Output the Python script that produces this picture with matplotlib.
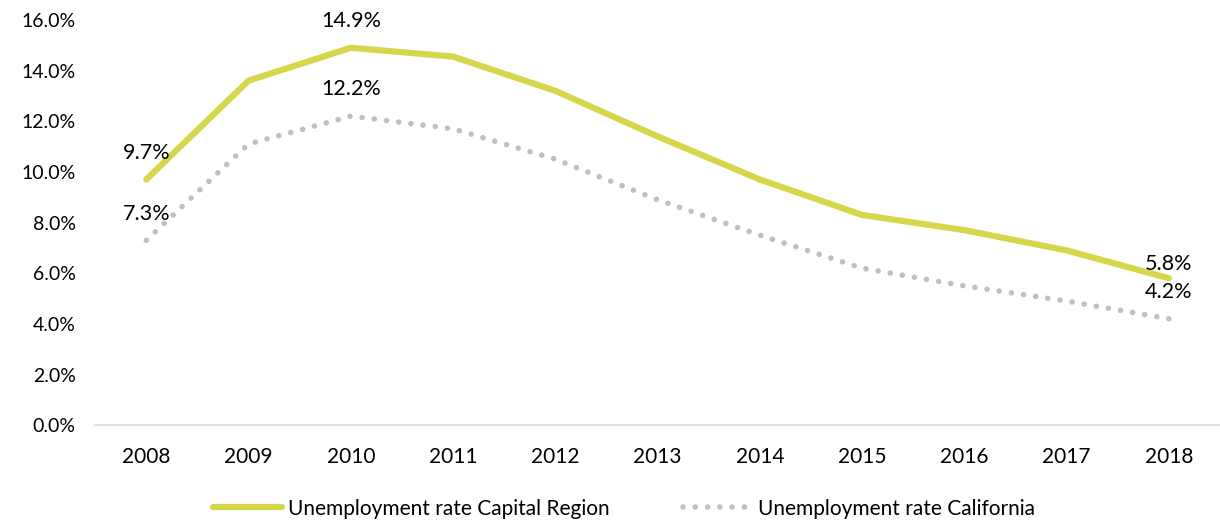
import matplotlib.pyplot as plt
from matplotlib.ticker import FuncFormatter

years = [2008, 2009, 2010, 2011, 2012, 2013, 2014, 2015, 2016, 2017, 2018]
capital = [9.7, 13.6, 14.9, 14.55, 13.2, 11.4, 9.7, 8.3, 7.7, 6.9, 5.8]
california = [7.3, 11.1, 12.2, 11.7, 10.5, 8.9, 7.5, 6.2, 5.5, 4.9, 4.2]

# which points get a value label, and how far (points) to push it
cap_labels = {0: (0, 12), 2: (0, 12), 10: (0, 3)}
cal_labels = {0: (0, 12), 2: (0, 12), 10: (0, 12)}

plt.rcParams['font.family'] = ['Lato', 'DejaVu Sans']

fig = plt.figure(figsize=(12.2, 5.23), dpi=100)
ax = fig.add_axes([0.078, 0.187, 0.922, 0.775])

x = list(range(len(years)))
ax.plot(x, capital, color='#D6D64A', lw=4.5, solid_capstyle='round',
        label='Unemployment rate Capital Region')
ax.plot(x, california, color='#BFBFBF', lw=4, linestyle=(0, (0.01, 2.2)),
        dash_capstyle='round', label='Unemployment rate California')

for i, (dx, dy) in cap_labels.items():
    ax.annotate(f'{capital[i]:.1f}%', (x[i], capital[i]), xytext=(dx, dy),
                textcoords='offset points', ha='center', va='bottom', fontsize=15.5)
for i, (dx, dy) in cal_labels.items():
    ax.annotate(f'{california[i]:.1f}%', (x[i], california[i]), xytext=(dx, dy),
                textcoords='offset points', ha='center', va='bottom', fontsize=15.5)

ax.set_xlim(-0.5, len(years) - 0.5)
ax.set_ylim(0, 16)
ax.set_yticks(range(0, 17, 2))
ax.yaxis.set_major_formatter(FuncFormatter(lambda v, p: f'{v:.1f}%'))
ax.set_xticks(x)
ax.set_xticklabels([str(y) for y in years])
ax.tick_params(axis='both', length=0, colors='#000000')
ax.tick_params(axis='x', pad=16, labelsize=15)
ax.tick_params(axis='y', pad=14, labelsize=14)

for s in ['top', 'right', 'left']:
    ax.spines[s].set_visible(False)
ax.spines['bottom'].set_color('#D9D9D9')
ax.spines['bottom'].set_linewidth(1.2)

ax.legend(loc='upper center', bbox_to_anchor=(0.47, -0.135), ncol=2, frameon=False,
          fontsize=15, handlelength=3.3, handletextpad=0.3, columnspacing=3.5)

fig.savefig('out.png', dpi=100)
